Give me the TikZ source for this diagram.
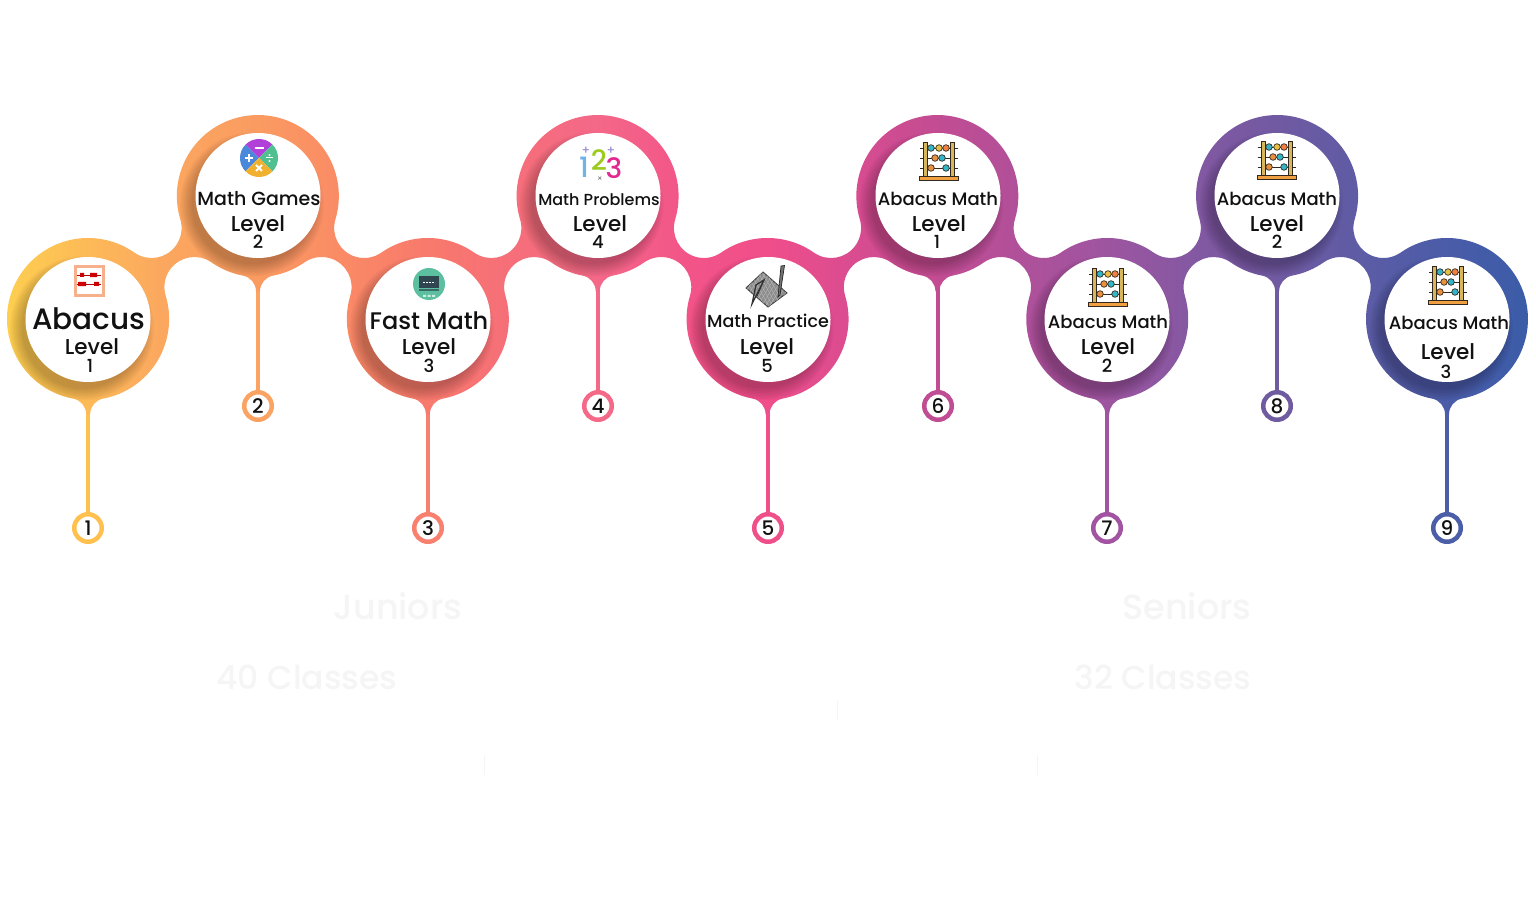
\documentclass[tikz,border=0pt]{standalone}
\usepackage{fontspec}
\setmainfont{Poppins}[UprightFont=* Medium,BoldFont=* SemiBold]
\usetikzlibrary{backgrounds}
\definecolor{g00}{HTML}{FDD04F}\definecolor{g01}{HTML}{FDBB57}\definecolor{g02}{HTML}{FBA75F}
\definecolor{g03}{HTML}{FA9C61}\definecolor{g04}{HTML}{FA8C65}\definecolor{g05}{HTML}{F87A6C}
\definecolor{g06}{HTML}{F66F78}\definecolor{g07}{HTML}{F46888}\definecolor{g08}{HTML}{F25488}
\definecolor{g09}{HTML}{F04E8A}\definecolor{g10}{HTML}{DA4C90}\definecolor{g11}{HTML}{C24C92}
\definecolor{g12}{HTML}{B0509A}\definecolor{g13}{HTML}{9E55A0}\definecolor{g14}{HTML}{8458A2}
\definecolor{g15}{HTML}{705AA2}\definecolor{g16}{HTML}{5A5CA5}\definecolor{g17}{HTML}{4A5CA8}
\definecolor{g18}{HTML}{3A5CA8}
\definecolor{s1}{HTML}{FFC04F}\definecolor{s2}{HTML}{FBA363}\definecolor{s3}{HTML}{F8806F}
\definecolor{s4}{HTML}{F46888}\definecolor{s5}{HTML}{F0508A}\definecolor{s6}{HTML}{C04C94}
\definecolor{s7}{HTML}{A254A2}\definecolor{s8}{HTML}{6F5CA0}\definecolor{s9}{HTML}{4B5EA8}
\definecolor{ink}{HTML}{111111}
\definecolor{ghost}{HTML}{F5F5F5}
\definecolor{wood}{HTML}{D8B65C}
\definecolor{woodbase}{HTML}{F0A040}
\definecolor{bar}{HTML}{33281E}
\definecolor{redframe}{HTML}{F6B08C}
\definecolor{wheelblue}{HTML}{4A88DC}\definecolor{wheelpurple}{HTML}{B040D8}
\definecolor{wheelgreen}{HTML}{50C090}\definecolor{wheelorange}{HTML}{F0B030}
\definecolor{boardgreen}{HTML}{5CC0A0}\definecolor{boarddark}{HTML}{2F4550}
\definecolor{numblue}{HTML}{6FB4E8}\definecolor{numgreen}{HTML}{9CCB1E}\definecolor{numpink}{HTML}{E02A90}
\definecolor{numviolet}{HTML}{9C8FD8}
\pgfdeclarehorizontalshading{ribbonshade}{100bp}{color(0bp)=(g00); color(25bp)=(g00);
 color(27.7bp)=(g01); color(30.35bp)=(g02); color(33.25bp)=(g03); color(35.9bp)=(g04);
 color(38.85bp)=(g05); color(41.5bp)=(g06); color(44.4bp)=(g07); color(47.4bp)=(g08);
 color(50bp)=(g09); color(52.7bp)=(g10); color(55.6bp)=(g11); color(58.3bp)=(g12);
 color(61.1bp)=(g13); color(63.9bp)=(g14); color(66.7bp)=(g15); color(69.8bp)=(g16);
 color(72.3bp)=(g17); color(75bp)=(g18); color(100bp)=(g18)}
\newcommand*\BA[2]{arc[start angle=#1,end angle=#2,radius=81pt] }
\newcommand*\FA[2]{arc[start angle=#1,end angle=#2,radius=30pt] }
\newcommand*\FL{arc[start angle=100.7,end angle=180,radius=16pt] -- ++(-4,0) arc[start angle=0,end angle=79.3,radius=16pt] }
\newcommand*\TOPSEG{\FA{235.05}{376.75}\BA{196.75}{-16.75}\FA{163.25}{304.95}}
\newcommand*\UNDERSEG{\FL\BA{259.3}{163.25}\FA{-16.75}{124.95}\BA{304.95}{280.7}\FL\BA{259.3}{235.05}\FA{55.05}{196.75}\BA{16.75}{-79.3}}
\edef\ribbonpath{(72.96,523.41) \BA{259.3}{55.05}\TOPSEG\BA{124.95}{55.05}\TOPSEG\BA{124.95}{55.05}\TOPSEG\BA{124.95}{55.05}\TOPSEG\BA{124.95}{-79.3}\UNDERSEG\UNDERSEG\UNDERSEG\UNDERSEG\FL -- cycle}
\newcommand*\fs[1]{\fontsize{#1}{#1}\selectfont}
\newcommand*\abacusicon[2]{%
 \begin{scope}[shift={(#1,#2)}]
  \foreach \yy in {13,3,-7}{\draw[bar,line width=.9pt] (-19,\yy) -- (19,\yy);}
  \foreach \xx in {-13.5,13.5}{\draw[bar,fill=wood,line width=.7pt] (\xx-1.8,-15) rectangle (\xx+1.8,19);}
  \draw[bar,fill=woodbase,line width=.7pt] (-19.5,-19) rectangle (19.5,-15);
  \foreach \xx/\yy/\cc in {-8/13/33B5C8,0/13/E8C040,7/13/F08040,-4/3/E89040,3/3/33B5C8,-8/-7/E89040,7/-7/33B5C8}{
   \definecolor{bead}{HTML}{\cc}\draw[bar,fill=bead,line width=.7pt] (\xx,\yy) circle[radius=3.3pt];}
 \end{scope}}
\tikzset{
 disc/.style={circle,fill=white,minimum size=125pt,inner sep=0pt},
 badge/.style={circle,fill=white,minimum size=27.5pt,inner sep=0pt,line width=4.5pt,text=ink,font=\fs{20}},
 stem/.style={line width=3.6pt},
 lab/.style={text=ink,inner sep=0pt,font=\fs{#1}},
 faint/.style={text=ghost,inner sep=0pt,font=\fs{#1}},
 softshadow/.style={fill=black,opacity=.028}
}
\begin{document}
\begin{tikzpicture}[x=1pt,y=1pt]
\useasboundingbox (0,0) rectangle (1536,922);
\shade[shading=ribbonshade] \ribbonpath;
\begin{scope}
 \clip \ribbonpath;
 \foreach \cx/\cy in {88/602.5,257.9/726.5,427.8/602.5,597.7/726.5,767.6/602.5,937.5/726.5,1107.4/602.5,1277.3/726.5,1447.2/602.5}{
  \foreach \rr in {60,61.5,...,72}{\fill[softshadow] (\cx-6,\cy-9) circle[radius=\rr pt];}}
\end{scope}
% white discs
\node[disc] (d1) at (88,602.5) {};
\node[disc] (d2) at (258,726.5) {};
\node[disc] (d3) at (428,602.5) {};
\node[disc] (d4) at (598,726.5) {};
\node[disc] (d5) at (768,602.5) {};
\node[disc] (d6) at (938,726.5) {};
\node[disc] (d7) at (1107,602.5) {};
\node[disc] (d8) at (1277,726.5) {};
\node[disc] (d9) at (1447,602.5) {};
% badges
\node[badge,draw=s1] (b1) at (88,394) {1};
\node[badge,draw=s2] (b2) at (258,516) {2};
\node[badge,draw=s3] (b3) at (428,394) {3};
\node[badge,draw=s4] (b4) at (598,516) {4};
\node[badge,draw=s5] (b5) at (768,394) {5};
\node[badge,draw=s6] (b6) at (938,516) {6};
\node[badge,draw=s7] (b7) at (1107,394) {7};
\node[badge,draw=s8] (b8) at (1277,516) {8};
\node[badge,draw=s9] (b9) at (1447,394) {9};
\begin{scope}[on background layer]
\fill[white] (0,0) rectangle (1536,922);
\draw[stem,s1] (d1) -- (b1);
\draw[stem,s2] (d2) -- (b2);
\draw[stem,s3] (d3) -- (b3);
\draw[stem,s4] (d4) -- (b4);
\draw[stem,s5] (d5) -- (b5);
\draw[stem,s6] (d6) -- (b6);
\draw[stem,s7] (d7) -- (b7);
\draw[stem,s8] (d8) -- (b8);
\draw[stem,s9] (d9) -- (b9);
\end{scope}
% texts
\node[lab=29.5] (t1a) at (89,603) {Abacus};
\node[lab=21.5] (t1b) at (92,575.5) {Level};
\node[lab=18] (t1c) at (90,556) {1};
\node[lab=19] (t2a) at (259,723) {Math Games};
\node[lab=21.5] (t2b) at (258,698.5) {Level};
\node[lab=18] (t2c) at (258,680) {2};
\node[lab=24] (t3a) at (429,601) {Fast Math};
\node[lab=21.5] (t3b) at (429,575.5) {Level};
\node[lab=18] (t3c) at (429,556) {3};
\node[lab=16] (t4a) at (599,722) {Math Problems};
\node[lab=21.5] (t4b) at (600,698.5) {Level};
\node[lab=18] (t4c) at (598,680) {4};
\node[lab=17.5] (t5a) at (768,601) {Math Practice};
\node[lab=21.5] (t5b) at (767,575.5) {Level};
\node[lab=18] (t5c) at (767,556) {5};
\node[lab=18] (t6a) at (938,723) {Abacus Math};
\node[lab=21.5] (t6b) at (939,698.5) {Level};
\node[lab=18] (t6c) at (937,680) {1};
\node[lab=18] (t7a) at (1108,600) {Abacus Math};
\node[lab=21.5] (t7b) at (1108,575.5) {Level};
\node[lab=18] (t7c) at (1107,556) {2};
\node[lab=18] (t8a) at (1277,723) {Abacus Math};
\node[lab=21.5] (t8b) at (1277,698.5) {Level};
\node[lab=18] (t8c) at (1277,680) {2};
\node[lab=18] (t9a) at (1449,599) {Abacus Math};
\node[lab=21.5] (t9b) at (1448,570.5) {Level};
\node[lab=18] (t9c) at (1446,550) {3};
% nearly invisible captions
\node[faint=35] (c1) at (398,316) {Juniors};
\node[faint=33] (c2) at (307,245) {40 Classes};
\node[faint=35] (c3) at (1187,316) {Seniors};
\node[faint=33] (c4) at (1163,245) {32 Classes};
% icon 1: red abacus
\begin{scope}[shift={(89,641)}]
 \draw[redframe,line width=3pt] (-14,-15) rectangle (14,14);
 \draw[red!70!black,line width=.8pt] (-12,6) -- (12,6) (-12,-3) -- (12,-3);
 \fill[red!80!black] (-9,4) rectangle (-5,8) (1,3.8) rectangle (8,8.2) (-11,-5.2) rectangle (-3,-.8) (5,-5) rectangle (10,-1);
\end{scope}
% icon 2: operations wheel
\begin{scope}[shift={(259,764)}]
 \fill[wheelblue] (0,0) -- (135:19) arc[start angle=135,end angle=225,radius=19pt] -- cycle;
 \fill[wheelpurple] (0,0) -- (45:19) arc[start angle=45,end angle=135,radius=19pt] -- cycle;
 \fill[wheelgreen] (0,0) -- (-45:19) arc[start angle=-45,end angle=45,radius=19pt] -- cycle;
 \fill[wheelorange] (0,0) -- (225:19) arc[start angle=225,end angle=315,radius=19pt] -- cycle;
 \draw[white,line width=2pt] (-4.5,9.5) -- (4.5,9.5);
 \draw[white,line width=2pt] (-14.5,0) -- (-6.5,0) (-10.5,-4) -- (-10.5,4);
 \draw[white,line width=1.8pt] (-3,-13) -- (3,-7) (-3,-7) -- (3,-13);
 \draw[white,line width=1pt] (7,0) -- (14,0);
 \fill[white] (10.5,3) circle[radius=1.1pt] (10.5,-3) circle[radius=1.1pt];
\end{scope}
% icon 3: chalkboard
\begin{scope}[shift={(429,638)}]
 \fill[boardgreen] (0,0) circle[radius=16pt];
 \fill[boarddark!70!boardgreen] (-10,-7.5) rectangle (10,-5.5);
 \fill[boarddark] (-10,-4) rectangle (10,8);
 \draw[white,line width=.8pt,dash pattern=on 2pt off 1pt] (-6,2) -- (6,2);
 \fill[white!70!boardgreen] (-6,-13) rectangle (-3,-11) (-1.5,-13) rectangle (1.5,-11) (3,-13) rectangle (6,-11);
\end{scope}
% icon 4: 123
\node[inner sep=0pt,font=\fs{28},text=numblue] (i41) at (584,755) {1};
\node[inner sep=0pt,font=\fs{28},text=numgreen] (i42) at (599,762) {2};
\node[inner sep=0pt,font=\fs{28},text=numpink] (i43) at (614,754) {3};
\node[inner sep=0pt,font=\fs{12},text=numviolet] (i44) at (586,771) {+};
\node[inner sep=0pt,font=\fs{12},text=numviolet] (i45) at (611,771) {+};
\node[inner sep=0pt,font=\fs{8},text=gray] (i46) at (600,743) {×};
% icon 5: geometry set
\begin{scope}
 \draw[black!75,fill=black!45,line width=.9pt] (746,634) -- (763,650) -- (787,629) -- (768,615) -- cycle;
 \begin{scope}
  \clip (746,634) -- (763,650) -- (787,629) -- (768,615) -- cycle;
  \foreach \k in {0,4,...,44}{\draw[white!75!black,line width=.3pt] (744+\k,610) -- (744+\k-22,650) (744+\k-10,610) -- (744+\k+14,650);}
 \end{scope}
 \draw[black!80,line width=1.3pt] (752,618) -- (764,642) -- (756,637) -- cycle;
 \draw[black!80,line width=1pt] (757,626) -- (764,642);
 \draw[black!85,fill=black!55,line width=.7pt] (781,656) -- (784.5,656.5) -- (780,627) -- (778,625) -- cycle;
\end{scope}
% abacus icons
\abacusicon{939}{761}
\abacusicon{1108}{635}
\abacusicon{1277}{762}
\abacusicon{1448}{637}
% faint ticks
\draw[ghost,line width=.8pt] (837,222) -- (837,202);
\draw[ghost,line width=.8pt] (484,167) -- (484,147);
\draw[ghost,line width=.8pt] (1037,167) -- (1037,147);
\end{tikzpicture}
\end{document}
